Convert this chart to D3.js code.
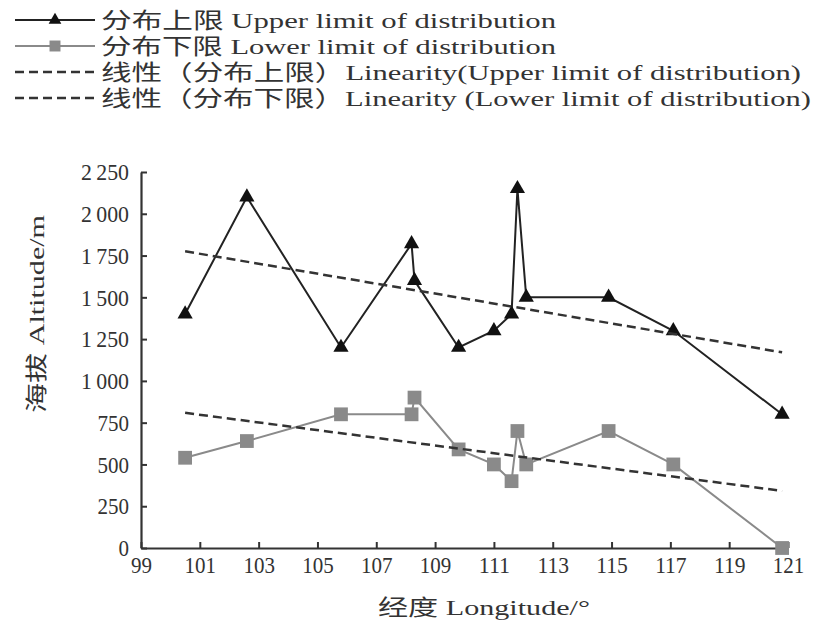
<!DOCTYPE html>
<html>
<head>
<meta charset="utf-8">
<script src="https://cdn.jsdelivr.net/npm/d3@7"></script>
<style>
  body { margin: 0; background: #fff; }
  text { fill: #333; }
</style>
</head>
<body>
<div id="chart"></div>
<script>
// data
const longitude = [100.5, 102.6, 105.8, 108.2, 108.3, 109.8, 111.0, 111.6, 111.8, 112.1, 114.9, 117.1, 120.8];
const upperLimit = [1400, 2100, 1200, 1820, 1600, 1200, 1300, 1400, 2150, 1500, 1500, 1300, 800];
const lowerLimit = [540, 640, 800, 800, 900, 590, 500, 400, 700, 500, 700, 500, 0];
const xTicks = [99, 101, 103, 105, 107, 109, 111, 113, 115, 117, 119, 121];
const yTicks = [0, 250, 500, 750, 1000, 1250, 1500, 1750, 2000, 2250];
const legendLabels = [
  "分布上限 Upper limit of distribution",
  "分布下限 Lower limit of distribution",
  "线性（分布上限）Linearity(Upper limit of distribution)",
  "线性（分布下限）Linearity (Lower limit of distribution)",
];

const width = 835;
const height = 625;
const margin = { top: 172, right: 47, bottom: 77, left: 141 };

const upperData = longitude.map((d, i) => ({ x: d, y: upperLimit[i] }));
const lowerData = longitude.map((d, i) => ({ x: d, y: lowerLimit[i] }));

// least squares line, like the spreadsheet trendline
function linearFit(data) {
  const mx = d3.mean(data, (d) => d.x);
  const my = d3.mean(data, (d) => d.y);
  const slope =
    d3.sum(data, (d) => (d.x - mx) * (d.y - my)) /
    d3.sum(data, (d) => (d.x - mx) * (d.x - mx));
  const [x0, x1] = d3.extent(data, (d) => d.x);
  return [
    { x: x0, y: my + slope * (x0 - mx) },
    { x: x1, y: my + slope * (x1 - mx) },
  ];
}

const svg = d3
  .select("#chart")
  .append("svg")
  .attr("width", width)
  .attr("height", height)
  .style("font-family", "'Liberation Serif', 'Noto Sans CJK SC', serif");

const xScale = d3
  .scaleLinear()
  .domain([99, 121])
  .range([margin.left, width - margin.right]);

const yScale = d3
  .scaleLinear()
  .domain([0, 2250])
  .range([height - margin.bottom, margin.top]);

const fmt = (d) => (d >= 1000 ? String(d).replace(/(\d)(\d{3})$/, "$1\u2009$2") : String(d));
// narrow, tall digits like the printed figure
const labelLen = (s) => s.replace(/\s/g, "").length * 10.5 + (/\s/.test(s) ? 6 : 0);

// axes, ticks pointing inward
const xAxis = d3.axisBottom(xScale).tickValues(xTicks).tickSizeInner(-6).tickSizeOuter(0).tickPadding(8);
const yAxis = d3.axisLeft(yScale).tickValues(yTicks).tickFormat(fmt).tickSizeInner(-6).tickSizeOuter(0).tickPadding(12);

const gx = svg
  .append("g")
  .attr("transform", "translate(0," + (height - margin.bottom) + ")")
  .call(xAxis);
const gy = svg
  .append("g")
  .attr("transform", "translate(" + margin.left + ",0)")
  .call(yAxis);

[gx, gy].forEach((g) => {
  g.select(".domain").attr("stroke", "#333").attr("stroke-width", 2.2);
  g.selectAll(".tick line").attr("stroke", "#333").attr("stroke-width", 2);
  g.selectAll(".tick text")
    .attr("fill", "#333")
    .style("font-size", "24px")
    .style("font-family", "'Liberation Serif', serif")
    .attr("textLength", function () { return labelLen(this.textContent); })
    .attr("lengthAdjust", "spacingAndGlyphs");
});
gy.selectAll(".tick text").attr("dy", "0.32em");

// axis titles
svg
  .append("text")
  .attr("x", 484)
  .attr("y", 615)
  .attr("text-anchor", "middle")
  .attr("textLength", 212)
  .attr("lengthAdjust", "spacingAndGlyphs")
  .style("font-size", "22px")
  .text("经度 Longitude/°");

svg
  .append("text")
  .attr("transform", "translate(44,314) rotate(-90)")
  .attr("text-anchor", "middle")
  .attr("textLength", 198)
  .attr("lengthAdjust", "spacingAndGlyphs")
  .style("font-size", "22px")
  .text("海拔 Altitude/m");

const line = d3
  .line()
  .x((d) => xScale(d.x))
  .y((d) => yScale(d.y));

// lower limit series
svg
  .append("path")
  .datum(lowerData)
  .attr("d", line)
  .attr("fill", "none")
  .attr("stroke", "#8a8a8a")
  .attr("stroke-width", 2);

svg
  .selectAll(".sq")
  .data(lowerData)
  .join("path")
  .attr("class", "sq")
  .attr("d", d3.symbol(d3.symbolSquare, 190))
  .attr("transform", (d) => "translate(" + xScale(d.x) + "," + yScale(d.y) + ")")
  .attr("fill", "#8a8a8a");

// upper limit series
svg
  .append("path")
  .datum(upperData)
  .attr("d", line)
  .attr("fill", "none")
  .attr("stroke", "#222")
  .attr("stroke-width", 2);

svg
  .selectAll(".tri")
  .data(upperData)
  .join("path")
  .attr("class", "tri")
  .attr("d", d3.symbol(d3.symbolTriangle, 100))
  .attr("transform", (d) => "translate(" + xScale(d.x) + "," + yScale(d.y) + ")")
  .attr("fill", "#111");

// trend lines
[upperData, lowerData].forEach((data) => {
  svg
    .append("path")
    .datum(linearFit(data))
    .attr("d", line)
    .attr("fill", "none")
    .attr("stroke", "#333")
    .attr("stroke-width", 2.5)
    .attr("stroke-dasharray", "9,5");
});

// legend
const legend = svg.append("g");
const rowY = [20, 46, 72, 98];
const textLen = [455, 455, 700, 710];

legendLabels.forEach((label, i) => {
  const row = legend.append("g").attr("transform", "translate(0," + rowY[i] + ")");
  const ln = row
    .append("line")
    .attr("x1", 15)
    .attr("x2", 95)
    .attr("stroke-width", i < 2 ? 2 : 2.5);
  if (i === 0) {
    ln.attr("stroke", "#222");
    row.append("path").attr("d", d3.symbol(d3.symbolTriangle, 70)).attr("transform", "translate(55,0)").attr("fill", "#111");
  } else if (i === 1) {
    ln.attr("stroke", "#8a8a8a");
    row.append("path").attr("d", d3.symbol(d3.symbolSquare, 120)).attr("transform", "translate(55,0)").attr("fill", "#8a8a8a");
  } else {
    ln.attr("stroke", "#333").attr("stroke-dasharray", "9,5");
  }
  row
    .append("text")
    .attr("x", 101)
    .attr("dy", "0.35em")
    .attr("textLength", textLen[i])
    .attr("lengthAdjust", "spacingAndGlyphs")
    .style("font-size", "22px")
    .text(label);
});
</script>
</body>
</html>
